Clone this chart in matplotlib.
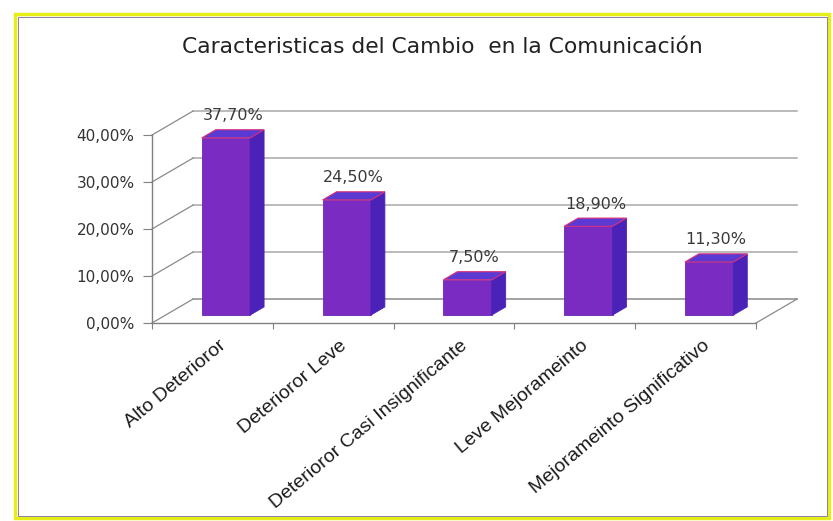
import matplotlib
matplotlib.use("Agg")
import matplotlib.pyplot as plt
from matplotlib.patches import Polygon, Rectangle

# data
categorias = ["Alto Deterioror", "Deterioror Leve", "Deterioror Casi Insignificante",
              "Leve Mejorameinto", "Mejorameinto Significativo"]
valores = [37.7, 24.5, 7.5, 18.9, 11.3]
y_ticks = [0, 10, 20, 30, 40]
titulo = "Caracteristicas del Cambio  en la Comunicación"

# pseudo-3d geometry (data units of the front plane)
DX, DY = 0.34, 5.1        # depth offset of the back wall
F0, DEPTH = 0.33, 0.34    # bar front position and bar depth, as fraction of full depth
ANCHO = 0.4

fig = plt.figure(figsize=(8.33, 5.21), dpi=100)
fig.patch.set_facecolor("white")

# frame around the chart
fig.patches.append(Rectangle((15 / 833, 1 - 518 / 521), 814 / 833, 504 / 521,
                             transform=fig.transFigure, fill=False,
                             edgecolor="#e6ee1a", lw=2.5))
fig.patches.append(Rectangle((17.5 / 833, 1 - 515.5 / 521), 809 / 833, 499 / 521,
                             transform=fig.transFigure, fill=False,
                             edgecolor="#7a6a9a", lw=0.6))

ax = fig.add_axes([152 / 833, (521 - 323) / 521, 604 / 833, 188 / 521])
ax.set_xlim(0, len(categorias))
ax.set_ylim(0, 40)
ax.patch.set_alpha(0)

n = len(categorias)

# back wall gridlines and the diagonals joining them to the front axis
for t in y_ticks:
    c = "#a8a8a8" if t > 0 else "#8a8a8a"
    ax.plot([DX, n + DX], [t + DY, t + DY], color=c, lw=1.1, clip_on=False, zorder=1)
    ax.plot([0, DX], [t, t + DY], color="#8a8a8a", lw=0.9, clip_on=False, zorder=1)
ax.plot([n, n + DX], [0, DY], color="#8a8a8a", lw=0.9, clip_on=False, zorder=1)

# bars
for i, v in enumerate(valores):
    x0 = i + (1 - ANCHO) / 2 + F0 * DX
    x1 = x0 + ANCHO
    yb = F0 * DY
    ddx, ddy = DEPTH * DX, DEPTH * DY
    frente = Rectangle((x0, yb), ANCHO, v, facecolor="#7a2cc2", edgecolor="#6a26b0",
                       lw=0.6, clip_on=False, zorder=3)
    lado = Polygon([(x1, yb), (x1 + ddx, yb + ddy), (x1 + ddx, v + yb + ddy), (x1, v + yb)],
                   closed=True, facecolor="#4b22b8", edgecolor="#4b22b8", lw=0.6,
                   clip_on=False, zorder=3)
    tapa = Polygon([(x0, v + yb), (x1, v + yb), (x1 + ddx, v + yb + ddy), (x0 + ddx, v + yb + ddy)],
                   closed=True, facecolor="#5a3ad2", edgecolor="#d8307c", lw=0.8,
                   clip_on=False, zorder=4)
    for p in (frente, lado, tapa):
        ax.add_patch(p)
    ax.text(x0 + ANCHO / 2 + ddx / 2, v + yb + ddy + 1.4, f"{v:.2f}%".replace(".", ","),
            ha="center", va="bottom", fontsize=11.5, color="#3a3a3a",
            family="DejaVu Sans", zorder=5)

# axes: front vertical axis and front floor line
for s in ("top", "right"):
    ax.spines[s].set_visible(False)
ax.spines["left"].set_color("#808080")
ax.spines["bottom"].set_color("#808080")
ax.spines["left"].set_linewidth(1.0)
ax.spines["bottom"].set_linewidth(1.0)

ax.set_yticks(y_ticks)
ax.set_yticklabels([f"{t:.2f}%".replace(".", ",") for t in y_ticks],
                   fontsize=11, color="#333333", family="DejaVu Sans")
ax.tick_params(axis="y", length=6.5, color="#808080", pad=6)

ax.set_xticks(range(n + 1))
ax.set_xticklabels([])
ax.tick_params(axis="x", which="major", length=4, color="#808080")

# category names, rotated under the front floor
for i, cat in enumerate(categorias):
    ax.text(i + 0.55, -3.0, cat, rotation=40, ha="right", va="top",
            rotation_mode="anchor", fontsize=14, family="Liberation Sans",
            color="#1a1a1a", clip_on=False)

fig.text(442 / 833, 1 - 47 / 521, titulo, ha="center", va="center",
         fontsize=15.7, family="DejaVu Sans", color="#222222")

fig.savefig("out.png", dpi=100)
